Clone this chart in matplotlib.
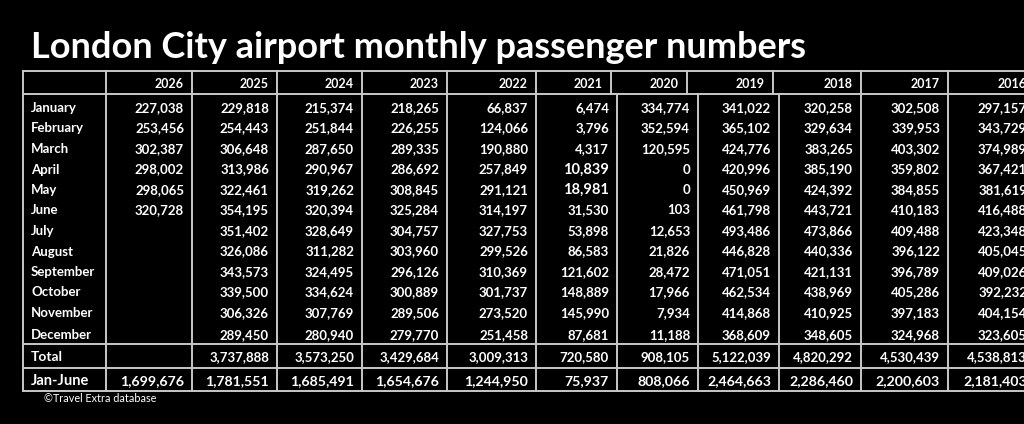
"""
London City airport monthly passenger numbers, drawn as a table on black.
"""

import matplotlib
matplotlib.use("Agg")
import matplotlib.pyplot as plt

# ---- data ----
years = ["2026", "2025", "2024", "2023", "2022", "2021", "2020",
         "2019", "2018", "2017", "2016"]
months = ["January", "February", "March", "April", "May", "June", "July",
          "August", "September", "October", "November", "December"]

y2026 = [227038, 253456, 302387, 298002, 298065, 320728,
         None, None, None, None, None, None]
y2025 = [229818, 254443, 306648, 313986, 322461, 354195,
         351402, 326086, 343573, 339500, 306326, 289450]
y2024 = [215374, 251844, 287650, 290967, 319262, 320394,
         328649, 311282, 324495, 334624, 307769, 280940]
y2023 = [218265, 226255, 289335, 286692, 308845, 325284,
         304757, 303960, 296126, 300889, 289506, 279770]
y2022 = [66837, 124066, 190880, 257849, 291121, 314197,
         327753, 299526, 310369, 301737, 273520, 251458]
y2021 = [6474, 3796, 4317, 10839, 18981, 31530,
         53898, 86583, 121602, 148889, 145990, 87681]
y2020 = [334774, 352594, 120595, 0, 0, 103,
         12653, 21826, 28472, 17966, 7934, 11188]
y2019 = [341022, 365102, 424776, 420996, 450969, 461798,
         493486, 446828, 471051, 462534, 414868, 368609]
y2018 = [320258, 329634, 383265, 385190, 424392, 443721,
         473866, 440336, 421131, 438969, 410925, 348605]
y2017 = [302508, 339953, 403302, 359802, 384855, 410183,
         409488, 396122, 396789, 405286, 397183, 324968]
y2016 = [297157, 343729, 374989, 367421, 381619, 416488,
         423348, 405045, 409026, 392232, 404154, 323605]

totals = [None, 3737888, 3573250, 3429684, 3009313, 720580, 908105,
          5122039, 4820292, 4530439, 4538813]
jan_june = [1699676, 1781551, 1685491, 1654676, 1244950, 75937, 808066,
            2464663, 2286460, 2200603, 2181403]

# cells that are highlighted (bigger, bolder) in the original
highlight = {("2021", "April"), ("2021", "May")}

monthly = [y2026, y2025, y2024, y2023, y2022, y2021, y2020,
           y2019, y2018, y2017, y2016]

# ---- layout (pixels of a 1024x424 canvas) ----
body_edges = [23, 106, 192, 277, 362, 447, 536, 617, 698, 779, 861, 948, 1035]
head_edges = [23, 106, 192, 277, 362, 447, 536, 611, 687, 773, 861, 948, 1035]
top, head_bottom, total_top, jj_top, bottom = 71, 94, 344, 368, 391
month_y = [108, 128.5, 149, 169.5, 190, 210.5, 231, 251.5, 272, 292.5, 313, 335]
total_y, jj_y, head_y = 357, 381, 84
pad = 8
line_col = "#c8c8c8"
font = "Lato"

fig = plt.figure(figsize=(10.24, 4.24), dpi=100, facecolor="black")
ax = fig.add_axes([0, 0, 1, 1])
ax.set_xlim(0, 1024)
ax.set_ylim(424, 0)
ax.axis("off")
ax.set_facecolor("black")

ax.text(31, 47, "London City airport monthly passenger numbers",
        color="white", fontsize=26, fontweight="bold", family=font,
        va="center", ha="left")

# grid lines
lw = 1.4
for y in [top, head_bottom, total_top, jj_top, bottom]:
    ax.plot([body_edges[0], body_edges[-1]], [y, y], color=line_col, lw=lw,
            clip_on=False)
for x in head_edges:
    ax.plot([x, x], [top, head_bottom], color=line_col, lw=lw)
for x in body_edges:
    ax.plot([x, x], [head_bottom, bottom], color=line_col, lw=lw)

txt = dict(color="white", family=font, fontweight="bold", va="center")

# header
for i, yr in enumerate(years):
    ax.text(head_edges[i + 2] - pad, head_y, yr, ha="right", fontsize=9, **txt)

# row labels
for m, y in zip(months, month_y):
    ax.text(body_edges[0] + pad, y, m, ha="left", fontsize=9.5, **txt)
ax.text(body_edges[0] + pad, total_y, "Total", ha="left", fontsize=10, **txt)
ax.text(body_edges[0] + pad, jj_y, "Jan-June", ha="left", fontsize=10.5, **txt)

# values
for i, yr in enumerate(years):
    x = body_edges[i + 2] - pad
    for m, y, v in zip(months, month_y, monthly[i]):
        if v is None:
            continue
        big = (yr, m) in highlight
        ax.text(x, y, f"{v:,}", ha="right", fontsize=10.5 if big else 9.5,
                **txt)
    if totals[i] is not None:
        ax.text(x, total_y, f"{totals[i]:,}", ha="right", fontsize=9.5, **txt)
    ax.text(x, jj_y, f"{jan_june[i]:,}", ha="right", fontsize=10.2, **txt)

ax.text(44, 398, "\u00a9Travel Extra database", color="white", family=font,
        fontsize=7.8, va="center", ha="left")

fig.savefig("out.png", dpi=100, facecolor="black")
